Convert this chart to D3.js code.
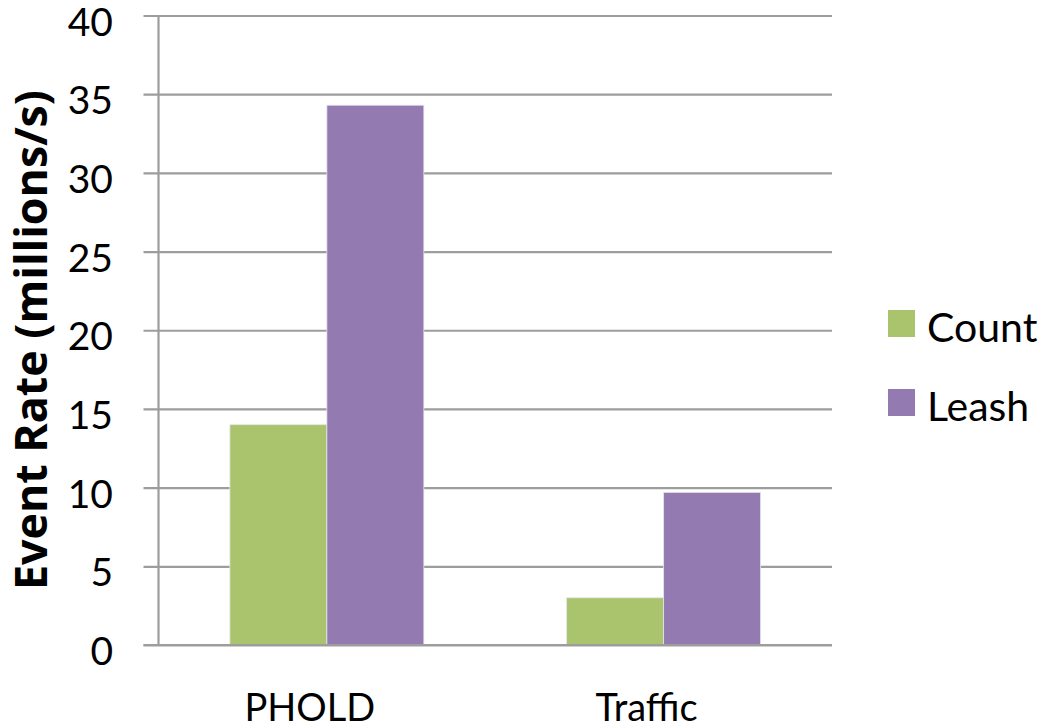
<!DOCTYPE html>
<html>
<head>
<meta charset="utf-8">
<script src="https://cdn.jsdelivr.net/npm/d3@7"></script>
<style>
  html, body { margin: 0; padding: 0; background: #fff; }
  svg { display: block; }
  text { font-family: Lato, "Noto Sans", sans-serif; fill: #000; }
</style>
</head>
<body>
<svg id="chart" width="1047" height="728"></svg>
<script>
// Event throughput per benchmark, in millions of events per second
const categories = ["PHOLD", "Traffic"];
const seriesNames = ["Count", "Leash"];
const countValues = [14.0, 3.0];
const leashValues = [34.3, 9.7];
const yTicks = [0, 5, 10, 15, 20, 25, 30, 35, 40];
const seriesColors = ["#AAC46D", "#937BB1"];

const rows = categories.map((c, i) => ({
  category: c,
  values: [
    { series: seriesNames[0], value: countValues[i] },
    { series: seriesNames[1], value: leashValues[i] }
  ]
}));

const svg = d3.select("#chart");
const plot = { left: 158.5, right: 832, top: 15.5, bottom: 645 };

const y = d3.scaleLinear().domain([0, 40]).range([plot.bottom, plot.top]);
const x0 = d3.scaleBand().domain(categories).range([plot.left, plot.right]).padding(0);
const x1 = d3.scaleBand().domain(seriesNames)
  .range([0, x0.bandwidth()]).paddingInner(0).paddingOuter(0.736);
const color = d3.scaleOrdinal().domain(seriesNames).range(seriesColors);

// horizontal gridlines with short outward ticks
const yAxis = d3.axisLeft(y).tickValues(yTicks)
  .tickSize(-(plot.right - plot.left)).tickSizeOuter(0).tickPadding(0).tickFormat("");
const gy = svg.append("g").attr("transform", `translate(${plot.left},0)`).call(yAxis);
gy.select(".domain").remove();
gy.selectAll(".tick line")
  .attr("x1", -15)
  .attr("stroke", "#9d9d9d").attr("stroke-width", 2.2);

// vertical axis line
svg.append("line")
  .attr("x1", plot.left).attr("x2", plot.left)
  .attr("y1", y(40)).attr("y2", y(0))
  .attr("stroke", "#9d9d9d").attr("stroke-width", 2.2);

// tick labels
svg.append("g").selectAll("text").data(yTicks).join("text")
  .attr("x", 113).attr("y", d => y(d) + 5)
  .attr("text-anchor", "end").attr("dominant-baseline", "central")
  .style("font-size", "39px")
  .text(d => d);

// bars
const groups = svg.append("g").selectAll("g").data(rows).join("g")
  .attr("transform", d => `translate(${x0(d.category)},0)`);
groups.selectAll("rect").data(d => d.values).join("rect")
  .attr("x", d => x1(d.series))
  .attr("width", x1.bandwidth())
  .attr("y", d => y(d.value))
  .attr("height", d => y(0) - y(d.value))
  .attr("fill", d => color(d.series))
  .attr("stroke", "#e6e6ee").attr("stroke-width", 0.8);

// baseline drawn over bars
svg.append("line")
  .attr("x1", plot.left - 15).attr("x2", plot.right)
  .attr("y1", y(0)).attr("y2", y(0))
  .attr("stroke", "#9d9d9d").attr("stroke-width", 2.2);

// category labels
svg.append("g").selectAll("text").data(categories).join("text")
  .attr("x", d => x0(d) + x0.bandwidth() / 2 - 17)
  .attr("y", 721)
  .attr("text-anchor", "middle")
  .style("font-size", "38px")
  .text(d => d);

// y axis title, sized to span the plot height
const title = svg.append("text")
  .attr("transform", "translate(47,340) rotate(-90)")
  .attr("text-anchor", "middle")
  .style("font-family", "'Open Sans', Lato, sans-serif")
  .style("font-size", "40px").style("font-weight", "bold")
  .text("Event Rate (millions/s)");
const titleLen = title.node().getComputedTextLength();
title.style("font-size", (40 * 500 / titleLen).toFixed(2) + "px");

// legend
const legend = svg.append("g").selectAll("g").data(seriesNames).join("g")
  .attr("transform", (d, i) => `translate(888,${310 + i * 79})`);
legend.append("rect")
  .attr("width", 27).attr("height", 27)
  .attr("fill", d => color(d));
legend.append("text")
  .attr("x", 39).attr("y", 31.5)
  .style("font-size", "41px")
  .text(d => d);
</script>
</body>
</html>
